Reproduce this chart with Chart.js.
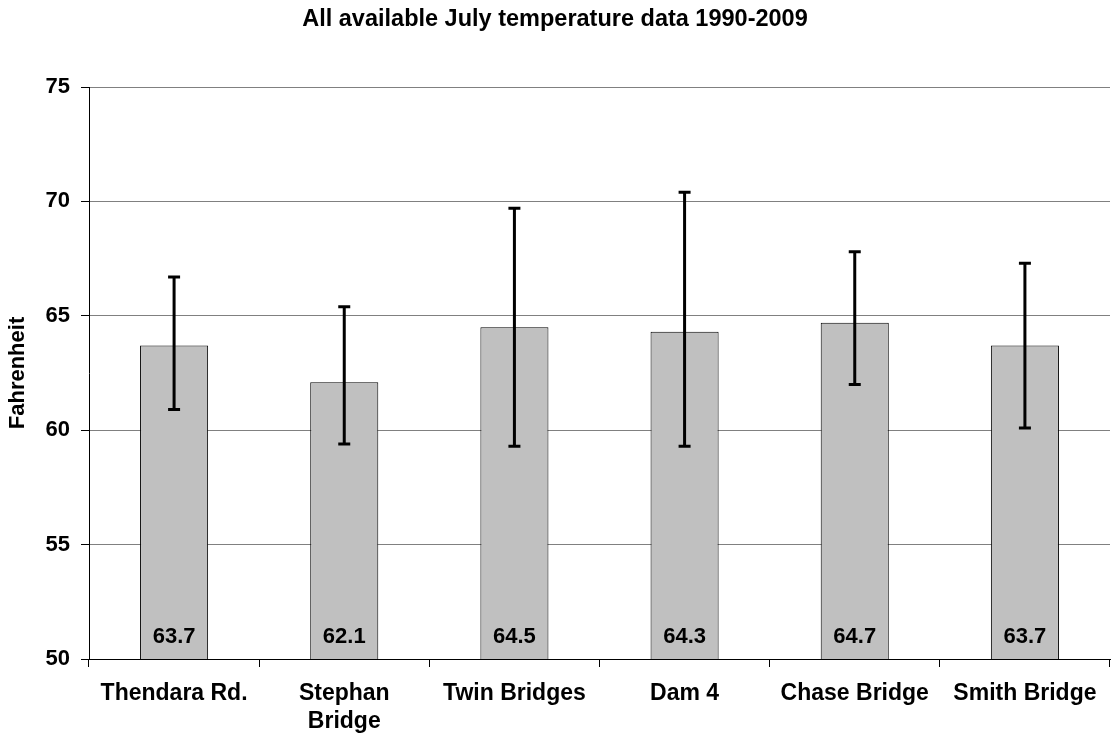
<!DOCTYPE html>
<html>
<head>
<meta charset="utf-8">
<script src="https://cdn.jsdelivr.net/npm/chart.js@4"></script>
<style>
  html, body { margin:0; padding:0; background:#fff; }
  #wrap { width:1112px; height:738px; }
</style>
</head>
<body>
<div id="wrap"><canvas id="c" width="1112" height="738"></canvas></div>
<script>
const sites = [["Thendara Rd."], ["Stephan", "Bridge"], ["Twin Bridges"], ["Dam 4"], ["Chase Bridge"], ["Smith Bridge"]];
const means = [63.7, 62.1, 64.5, 64.3, 64.7, 63.7];
const upper = [66.7, 65.4, 69.7, 70.4, 67.8, 67.3];
const lower = [60.9, 59.4, 59.3, 59.3, 62.0, 60.1];

const FONT = "'Liberation Sans', Arial, sans-serif";

// error bars + value labels, drawn through the scales
const extras = {
    id: "extras",
    afterDatasetsDraw(chart){
        const ctx = chart.ctx;
        const x = chart.scales.x, y = chart.scales.y;
        ctx.save();
        ctx.strokeStyle = "#000";
        ctx.lineWidth = 3;
        means.forEach((m,i)=>{
            const px = x.getPixelForValue(i);
            const top = y.getPixelForValue(upper[i]);
            const bot = y.getPixelForValue(lower[i]);
            ctx.beginPath();
            ctx.moveTo(px, top); ctx.lineTo(px, bot);
            ctx.moveTo(px-6, top); ctx.lineTo(px+6, top);
            ctx.moveTo(px-6, bot); ctx.lineTo(px+6, bot);
            ctx.stroke();
        });
        ctx.fillStyle = "#000";
        ctx.font = "bold 22px " + FONT;
        ctx.textAlign = "center";
        ctx.textBaseline = "middle";
        means.forEach((m,i)=>{
            ctx.fillText(m.toFixed(1), x.getPixelForValue(i), y.getPixelForValue(50) - 22);
        });
        ctx.restore();
    }
};

new Chart(document.getElementById("c"), {
    type: "bar",
    data: {
        labels: sites,
        datasets: [{
            data: means,
            backgroundColor: "#c0c0c0",
            borderColor: "#000",
            borderWidth: 1,
            barPercentage: 0.4,
            categoryPercentage: 1.0
        }]
    },
    options: {
        responsive: false,
        animation: false,
        layout: { padding: { left: 0, right: 2, top: 0, bottom: 0 } },
        plugins: {
            legend: { display: false },
            tooltip: { enabled: false },
            title: {
                display: true,
                text: "All available July temperature data 1990-2009",
                color: "#000",
                font: { family: FONT, size: 23.5, weight: "bold" },
                padding: { top: 5, bottom: 53.8 }
            }
        },
        scales: {
            x: {
                grid: { offset: true, drawOnChartArea: false, drawTicks: true, tickLength: 8, color: "#000" },
                border: { color: "#000" },
                ticks: { color: "#000", font: { family: FONT, size: 23, weight: "bold" }, padding: 13, maxRotation: 0 },
                afterFit(s){ s.height = 79; }
            },
            y: {
                min: 50, max: 75,
                ticks: { stepSize: 5, color: "#000", font: { family: FONT, size: 22, weight: "bold" }, padding: 11 },
                grid: { color: "#808080", tickLength: 8, tickColor: "#000" },
                border: { color: "#000" },
                title: { display: true, text: "Fahrenheit", color: "#000", font: { family: FONT, size: 22, weight: "bold" }, padding: { top: 5, bottom: 0 } },
                afterFit(s){ s.width = 89; }
            }
        }
    },
    plugins: [extras]
});
</script>
</body>
</html>
